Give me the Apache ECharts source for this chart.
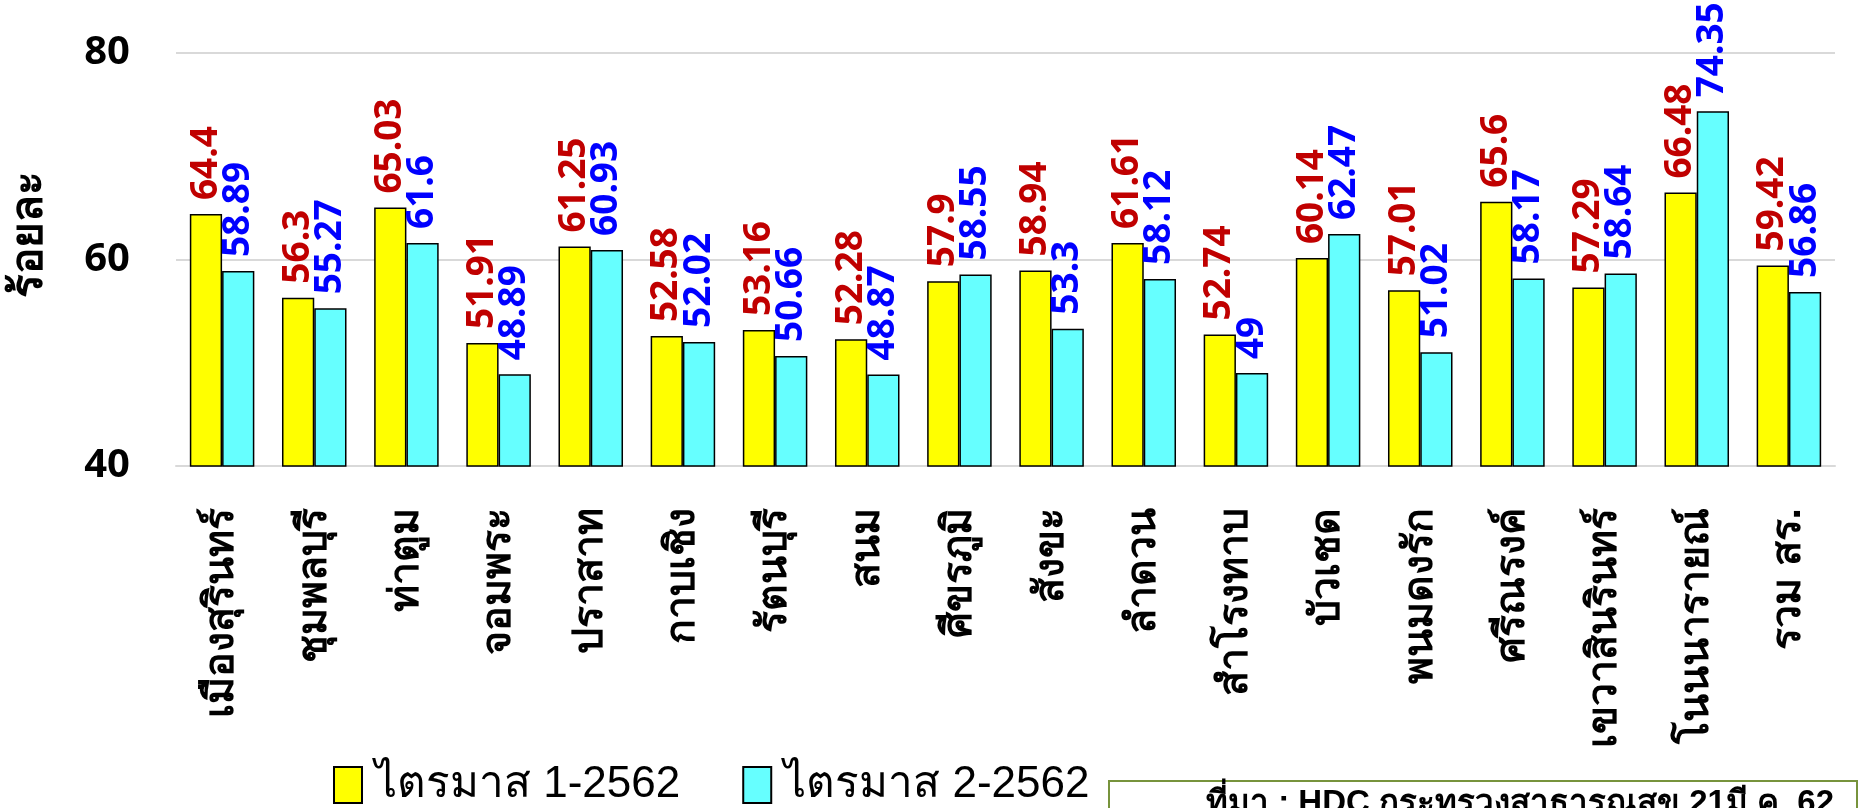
<!DOCTYPE html>
<html>
<head>
<meta charset="utf-8">
<script src="https://cdn.jsdelivr.net/npm/echarts@6/dist/echarts.min.js"></script>
<style>
  html, body { margin: 0; padding: 0; background: #fff; }
  #main { width: 1874px; height: 808px; }
</style>
</head>
<body>
<div id="main"></div>
<script>
// อำเภอ
var districts = ['เมืองสุรินทร์', 'ชุมพลบุรี', 'ท่าตูม', 'จอมพระ', 'ปราสาท', 'กาบเชิง', 'รัตนบุรี', 'สนม', 'ศีขรภูมิ',
  'สังขะ', 'ลำดวน', 'สำโรงทาบ', 'บัวเชด', 'พนมดงรัก', 'ศรีณรงค์', 'เขวาสินรินทร์', 'โนนนารายณ์', 'รวม สร.'];
var q1 = [64.4, 56.3, 65.03, 51.91, 61.25, 52.58, 53.16, 52.28, 57.9, 58.94, 61.61, 52.74, 60.14, 57.01, 65.6, 57.29, 66.48, 59.42];
var q2 = [58.89, 55.27, 61.6, 48.89, 60.93, 52.02, 50.66, 48.87, 58.55, 53.3, 58.12, 49, 62.47, 51.02, 58.17, 58.64, 74.35, 56.86];
var seriesNames = ['ไตรมาส 1-2562', 'ไตรมาส 2-2562'];
var sourceText = 'ที่มา : HDC กระทรวงสาธารณสุข 21มี.ค. 62';

var chart = echarts.init(document.getElementById('main'), null, {renderer: 'canvas'});

function valLabel(color) {
  return {
    show: true,
    position: 'top',
    rotate: 90,
    align: 'left',
    verticalAlign: 'middle',
    distance: 14,
    color: color,
    fontFamily: 'Noto Sans',
    fontWeight: 'bold',
    fontSize: 37
  };
}

chart.setOption({
  animation: false,
  grid: { left: 176, right: 39, top: 53, bottom: 342, outerBoundsMode: 'none', containLabel: false },
  legend: {
    left: 328,
    top: 758,
    icon: 'rect',
    itemWidth: 28,
    itemHeight: 36,
    itemGap: 62,
    textStyle: { fontSize: 44, color: '#000', fontFamily: 'Liberation Sans', padding: [0, 0, 0, 8] },
    data: seriesNames
  },
  xAxis: {
    type: 'category',
    data: districts,
    axisLine: { lineStyle: { color: '#d9d9d9', width: 2 } },
    axisTick: { show: false },
    axisLabel: {
      rotate: 90,
      interval: 0,
      margin: 42,
      color: '#000',
      fontWeight: 'bold',
      fontSize: 41
    }
  },
  yAxis: {
    type: 'value',
    min: 40,
    max: 80,
    interval: 20,
    name: 'ร้อยละ',
    nameLocation: 'middle',
    nameGap: 124,
    nameTextStyle: { fontSize: 44, fontWeight: 'bold', color: '#000', padding: [0, 0, 0, 50] },
    axisLine: { show: false },
    axisTick: { show: false },
    axisLabel: { margin: 46, color: '#000', fontSize: 40, fontWeight: 'bold', fontFamily: 'Noto Sans' },
    splitLine: { lineStyle: { color: '#d9d9d9', width: 2 } }
  },
  series: [
    {
      name: seriesNames[0],
      type: 'bar',
      data: q1,
      barGap: '0%',
      barCategoryGap: '30%',
      itemStyle: { color: '#ffff00', borderColor: '#000', borderWidth: 1.5 },
      label: valLabel('#c00000')
    },
    {
      name: seriesNames[1],
      type: 'bar',
      data: q2,
      itemStyle: { color: '#66ffff', borderColor: '#000', borderWidth: 1.5 },
      label: valLabel('#0000ff')
    }
  ],
  graphic: [
    {
      type: 'rect',
      shape: { x: 1109, y: 781, width: 748, height: 80 },
      style: { fill: '#fff', stroke: '#77933c', lineWidth: 2 },
      z: 10
    },
    {
      type: 'text',
      x: 1206,
      y: 787,
      style: { text: sourceText, fontSize: 33, fontWeight: 'bold', fill: '#000' },
      z: 11
    }
  ]
});
</script>
</body>
</html>
